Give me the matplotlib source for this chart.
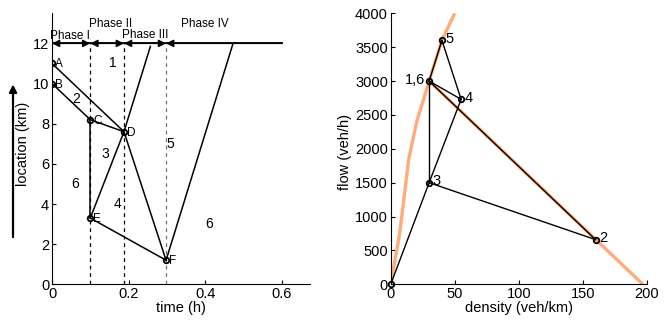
import matplotlib.pyplot as plt

plt.rcParams['font.family'] = ['Liberation Sans', 'DejaVu Sans']
plt.rcParams['font.size'] = 10.5

# left panel: points in time-space
pt_names = ['A', 'B', 'C', 'D', 'E', 'F']
pt_t = [0.0, 0.0, 0.1, 0.188, 0.1, 0.298]
pt_x = [11.0, 10.0, 8.2, 7.6, 3.3, 1.2]
# shock / wave segments (start name, end name)
segments = [('A', 'D'), ('B', 'C'), ('C', 'D'), ('C', 'E'), ('E', 'D'),
            ('E', 'F'), ('D', 'F')]
# free ends going up to the 12 km line
free_t = [[0.188, 0.257], [0.298, 0.473]]
free_x = [[7.6, 11.85], [1.2, 12.0]]
phase_bounds = [0.0, 0.1, 0.188, 0.298, 0.6]
phase_names = ['Phase I', 'Phase II', 'Phase III', 'Phase IV']
phase_label_t = [0.047, 0.153, 0.243, 0.40]
phase_label_x = [12.35, 12.95, 12.4, 12.95]
region_names = ['1', '2', '3', '4', '5', '6', '6']
region_t = [0.16, 0.063, 0.138, 0.17, 0.308, 0.06, 0.41]
region_x = [11.0, 9.25, 6.5, 4.0, 7.0, 5.0, 3.0]

# right panel: states in density-flow plane
st_names = ['0', '1,6', '2', '3', '4', '5']
st_k = [0, 30, 160, 30, 55, 40]
st_q = [0, 3000, 660, 1500, 2730, 3600]
st_links = [('0', '3'), ('3', '1,6'), ('1,6', '4'), ('4', '5'), ('5', '1,6'),
            ('1,6', '2'), ('3', '2'), ('3', '4')]
fd_free_k = [0, 7, 14, 20.3, 30, 40, 50]
fd_free_q = [0, 750, 1840, 2400, 3000, 3600, 4000]
fd_cong_k = [30, 197]
fd_cong_q = [3000, 0]

fig = plt.figure(figsize=(6.71, 3.2), dpi=100)
ax1 = fig.add_axes([0.0775, 0.1115, 0.3845, 0.847])
ax2 = fig.add_axes([0.5823, 0.1115, 0.3815, 0.847])

for ax in (ax1, ax2):
    ax.spines['top'].set_visible(False)
    ax.spines['right'].set_visible(False)
    ax.tick_params(direction='in', length=3, width=0.8, pad=2)

# ---- left panel
P = dict(zip(pt_names, zip(pt_t, pt_x)))
for b, c in zip(phase_bounds[1:4], ['k', 'k', '0.45']):
    ax1.plot([b, b], [0, 12], '--', color=c, lw=0.9, dashes=(3, 3))
for a, b in segments:
    ax1.plot([P[a][0], P[b][0]], [P[a][1], P[b][1]], 'k-', lw=1.1)
for tt, xx in zip(free_t, free_x):
    ax1.plot(tt, xx, 'k-', lw=1.1)
ax1.plot([0, 0.6], [12, 12], 'k-', lw=1.3)
for i in range(4):
    t0, t1 = phase_bounds[i], phase_bounds[i + 1]
    style = '<|-|>' if i < 3 else '<|-'
    ax1.annotate('', xy=(t1, 12), xytext=(t0, 12),
                 arrowprops=dict(arrowstyle=style, color='k', lw=1.0,
                                 mutation_scale=11, shrinkA=0, shrinkB=0))
    ax1.text(phase_label_t[i], phase_label_x[i], phase_names[i],
             ha='center', va='center', fontsize=8.5)
ax1.plot(pt_t, pt_x, 'o', ms=4, mfc='none', mec='k', mew=1.3)
for n, t, x in zip(pt_names, pt_t, pt_x):
    ax1.text(t + 0.007, x - 0.05, n, ha='left', va='center', fontsize=8.5)
for n, t, x in zip(region_names, region_t, region_x):
    ax1.text(t, x, n, ha='center', va='center', fontsize=10)

ax1.set_xlim(0, 0.674)
ax1.set_ylim(0, 13.5)
ax1.set_xticks([0, 0.2, 0.4, 0.6])
ax1.set_xticklabels(['0', '0.2', '0.4', '0.6'])
ax1.set_yticks(range(0, 13, 2))
ax1.set_xlabel('time (h)', labelpad=0)
ax1.set_ylabel('location (km)')
ax1.yaxis.set_label_coords(-0.085, 0.52)
fig.add_artist(plt.matplotlib.patches.FancyArrowPatch(
    (0.0194, 0.25), (0.0194, 0.745), transform=fig.transFigure,
    arrowstyle='-|>', mutation_scale=11, color='k', lw=1.6))

# ---- right panel
S = dict(zip(st_names, zip(st_k, st_q)))
ax2.plot(fd_free_k, fd_free_q, color='#ffab7a', lw=2.4, solid_capstyle='butt')
ax2.plot(fd_cong_k, fd_cong_q, color='#ffab7a', lw=2.4, solid_capstyle='butt')
for a, b in st_links:
    ax2.plot([S[a][0], S[b][0]], [S[a][1], S[b][1]], 'k-', lw=1.0)
ax2.plot(st_k, st_q, 'o', ms=4, mfc='none', mec='k', mew=1.3, clip_on=False)
offsets = {'1,6': (-3, 'right'), '2': (3, 'left'), '3': (3, 'left'),
           '4': (3, 'left'), '5': (3, 'left')}
for n, k, q in zip(st_names, st_k, st_q):
    if n in offsets:
        dk, ha = offsets[n]
        ax2.text(k + dk, q + 20, n, ha=ha, va='center', fontsize=10.5)

ax2.set_xlim(0, 200)
ax2.set_ylim(0, 4000)
ax2.set_xticks(range(0, 201, 50))
ax2.set_yticks(range(0, 4001, 500))
ax2.set_xlabel('density (veh/km)', labelpad=0)
ax2.set_ylabel('flow (veh/h)')
ax2.yaxis.set_label_coords(-0.15, 0.49)

fig.savefig('out.png', dpi=100)
